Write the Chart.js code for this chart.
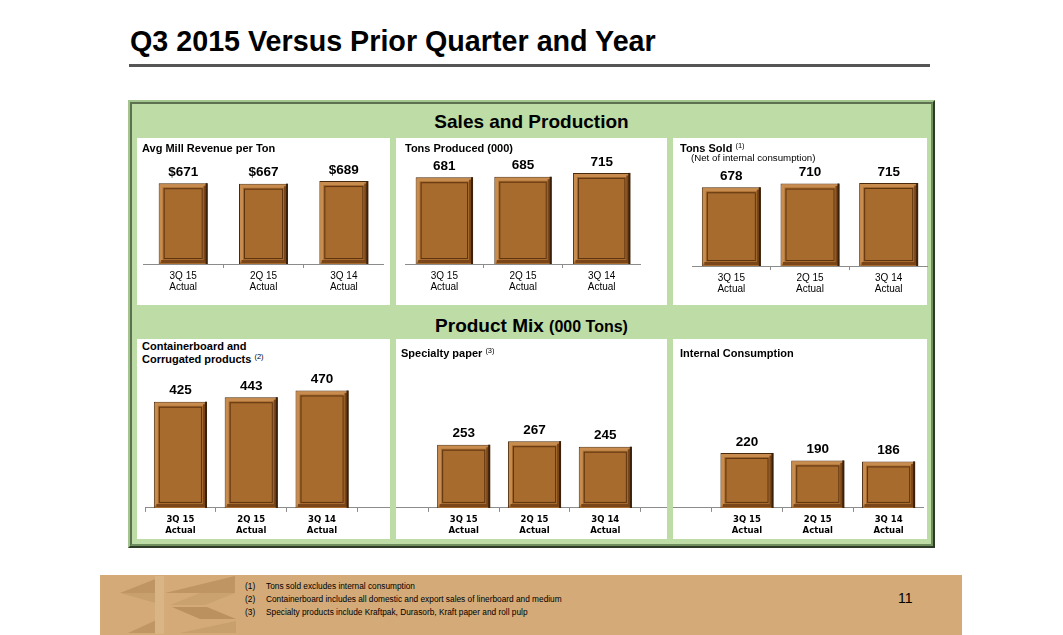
<!DOCTYPE html>
<html>
<head>
<meta charset="utf-8">
<script src="https://cdn.jsdelivr.net/npm/chart.js@4/dist/chart.umd.min.js"></script>
<style>
  html, body { margin: 0; padding: 0; background: #fff; }
  body { width: 1063px; height: 635px; position: relative; overflow: hidden; font-family: Arial, "Liberation Sans", sans-serif; color: #000; }
  .abs { position: absolute; }
  #title { left: 130px; top: 25px; font-size: 28.7px; font-weight: bold; white-space: nowrap; }
  #rule { left: 129px; top: 64px; width: 801px; height: 3px; background: #555; }
  #frame { left: 128px; top: 100px; width: 799px; height: 440px; background: #bddca6; border: 4px ridge #a3c58e; border-right-color: #6f8f5f; border-bottom-color: #6f8f5f; }
  .band { left: 132px; width: 799px; text-align: center; font-weight: bold; font-size: 19px; }
  .panel { background: #fff; }
  .divider { background: #bddca6; z-index: 2; }
  .ptitle { font-size: 11px; font-weight: bold; white-space: nowrap; line-height: 13px; z-index: 3; }
  sup { font-size: 7.5px; font-weight: normal; vertical-align: 4px; line-height: 0; }
  .box { z-index: 1; }
  #footer { left: 100px; top: 575px; width: 862px; height: 60px; background: #d3aa78; }
  .note { font-size: 8.3px; white-space: nowrap; }
</style>
</head>
<body>
<div id="title" class="abs">Q3 2015 Versus Prior Quarter and Year</div>
<div id="rule" class="abs"></div>

<div id="frame" class="abs"></div>
<div class="abs band" style="top:111px;">Sales and Production</div>
<div class="abs band" style="top:315px;">Product Mix <span style="font-size:16px">(000 Tons)</span></div>

<div class="abs panel" style="left:137px; top:138px; width:253px; height:167px;"></div>
<div class="abs panel" style="left:396px; top:138px; width:271px; height:167px;"></div>
<div class="abs panel" style="left:673px; top:138px; width:254px; height:167px;"></div>
<div class="abs panel" style="left:137px; top:339px; width:790px; height:200px;"></div>

<div class="abs ptitle" style="left:142px; top:142px;">Avg Mill Revenue per Ton</div>
<div class="abs ptitle" style="left:405px; top:142px;">Tons Produced (000)</div>
<div class="abs ptitle" style="left:680px; top:142px;">Tons Sold <sup>(1)</sup></div>
<div class="abs ptitle" style="left:691px; top:151px; font-weight:normal; font-size:9.7px;">(Net of internal consumption)</div>
<div class="abs ptitle" style="left:142px; top:340px;">Containerboard and<br>Corrugated products <sup>(2)</sup></div>
<div class="abs ptitle" style="left:401px; top:347px;">Specialty paper <sup>(3)</sup></div>
<div class="abs ptitle" style="left:680px; top:347px;">Internal Consumption</div>

<div class="abs box" style="left:143px; top:153px; width:241px; height:142px;"><canvas id="c1"></canvas></div>
<div class="abs box" style="left:405px; top:153px; width:236px; height:142px;"><canvas id="c2"></canvas></div>
<div class="abs box" style="left:692px; top:155px; width:236px; height:142px;"><canvas id="c3"></canvas></div>
<div class="abs box" style="left:145px; top:368px; width:779px; height:170px;"><canvas id="c4"></canvas></div>

<div class="abs divider" style="left:390px; top:339px; width:6px; height:200px;"></div>
<div class="abs divider" style="left:667px; top:339px; width:6px; height:200px;"></div>

<div id="footer" class="abs">
  <svg width="150" height="60" style="position:absolute; left:0; top:0;">
    <polygon points="20,18 63,1 63,18" fill="#bf9563"/>
    <polygon points="20,18 63,18 63,30" fill="#c7a06e"/>
    <polygon points="28,58 63,42 63,58" fill="#c09764"/>
    <rect x="55" y="1" width="9" height="58" fill="#d9b484"/>
    <polygon points="65,18 135,1 135,18" fill="#bf9563"/>
    <polygon points="70,30 100,18 135,18 105,30" fill="#c9a270"/>
    <polygon points="72,32 107,32 136,44 100,44" fill="#bb9160"/>
    <polygon points="80,58 136,46 136,58" fill="#c7a06e"/>
  </svg>
  <div class="abs note" style="left:145px; top:6px;">(1)</div>
  <div class="abs note" style="left:166px; top:6px;">Tons sold excludes internal consumption</div>
  <div class="abs note" style="left:145px; top:19px;">(2)</div>
  <div class="abs note" style="left:166px; top:19px;">Containerboard includes all domestic and export sales of linerboard and medium</div>
  <div class="abs note" style="left:145px; top:32px;">(3)</div>
  <div class="abs note" style="left:166px; top:32px;">Specialty products include Kraftpak, Durasorb, Kraft paper and roll pulp</div>
  <div class="abs" style="left:798px; top:15px; font-size:14px;">11</div>
</div>

<script>
// periods
const periods = [['3Q 15', 'Actual'], ['2Q 15', 'Actual'], ['3Q 14', 'Actual']];

// sales and production
const millRevenue = [671, 667, 689];
const tonsProduced = [681, 685, 715];
const tonsSold = [678, 710, 715];

// product mix (000 tons)
const containerboard = [425, 443, 470];
const specialtyPaper = [253, 267, 245];
const internalUse = [220, 190, 186];

// draws the framed look of the bars and the value over each one
const barDeco = {
  id: 'barDeco',
  afterDatasetsDraw(chart, args, opts) {
    const ctx = chart.ctx;
    const meta = chart.getDatasetMeta(0);
    const vals = chart.data.datasets[0].data;
    meta.data.forEach((bar, i) => {
      if (vals[i] == null) return;
      const p = bar.getProps(['x', 'y', 'base', 'width'], true);
      const l = p.x - p.width / 2, r = p.x + p.width / 2, t = p.y, b = p.base;
      ctx.save();
      ctx.lineWidth = 3;
      // light top and left
      ctx.strokeStyle = '#c88d4e';
      ctx.beginPath();
      ctx.moveTo(l + 2.5, b - 2.5); ctx.lineTo(l + 2.5, t + 2.5); ctx.lineTo(r - 2.5, t + 2.5);
      ctx.stroke();
      // dark bottom and right
      ctx.strokeStyle = '#7a4619';
      ctx.beginPath();
      ctx.moveTo(r - 2.5, t + 2.5); ctx.lineTo(r - 2.5, b - 2.5); ctx.lineTo(l + 2.5, b - 2.5);
      ctx.stroke();
      ctx.lineWidth = 1;
      ctx.strokeStyle = '#5e3410';
      ctx.strokeRect(l + 5.5, t + 5.5, r - l - 11, b - t - 11);
      ctx.strokeStyle = '#3b200a';
      ctx.lineWidth = 2;
      ctx.beginPath(); ctx.moveTo(r - 1, t); ctx.lineTo(r - 1, b); ctx.stroke();
      // value
      ctx.fillStyle = '#000';
      ctx.font = 'bold 13.5px Arial, "Liberation Sans", sans-serif';
      ctx.textAlign = 'center';
      ctx.textBaseline = 'middle';
      ctx.fillText((opts.prefix || '') + vals[i], p.x, t - 11);
      ctx.restore();
    });
  }
};

function makeChart(id, labels, values, yMax, barPct, prefix, tickFont) {
  return new Chart(document.getElementById(id), {
    type: 'bar',
    data: {
      labels: labels,
      datasets: [{
        data: values,
        backgroundColor: '#a76b2e',
        borderColor: '#4a2a0c',
        borderWidth: 1,
        barPercentage: barPct,
        categoryPercentage: 1
      }]
    },
    options: {
      responsive: true,
      maintainAspectRatio: false,
      animation: false,
      layout: { padding: 0 },
      plugins: {
        legend: { display: false },
        tooltip: { enabled: false },
        barDeco: { prefix: prefix }
      },
      scales: {
        x: {
          grid: { display: true, drawOnChartArea: false, drawTicks: true, tickLength: 4, color: '#8c8c8c', offset: true },
          border: { display: true, color: '#8c8c8c', width: 1 },
          ticks: { color: '#000', padding: 2, maxRotation: 0, autoSkip: false, font: tickFont }
        },
        y: { display: false, min: 0, max: yMax }
      }
    },
    plugins: [barDeco]
  });
}

const topFont = { family: 'Arial, "Liberation Sans", sans-serif', size: 10, lineHeight: 1.15 };
const mixFont = { family: '"DejaVu Sans", sans-serif', size: 8.5, weight: 'bold', lineHeight: 1.3 };

makeChart('c1', periods, millRevenue, 922, 0.61, '$', topFont);
makeChart('c2', periods, tonsProduced, 871, 0.73, '', topFont);
makeChart('c3', periods, tonsSold, 956, 0.75, '', topFont);

// the three product mix groups share one axis with an empty slot between them
const mixLabels = [...periods, '', ...periods, '', ...periods];
const mixValues = [...containerboard, null, ...specialtyPaper, null, ...internalUse];
makeChart('c4', mixLabels, mixValues, 560, 0.75, '', mixFont);
</script>
</body>
</html>
